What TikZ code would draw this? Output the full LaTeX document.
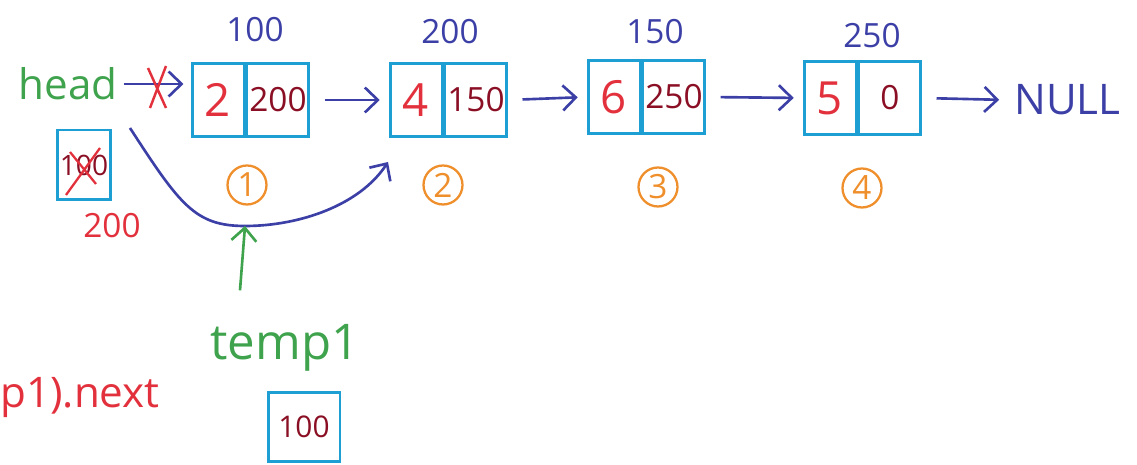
\documentclass[tikz,border=0pt]{standalone}
\usepackage{fontspec}
\setmainfont{Open Sans}
\usetikzlibrary{arrows.meta,calc}
\definecolor{boxc}{HTML}{1E9FD4}
\definecolor{inkblue}{HTML}{3B3FA6}
\definecolor{inkred}{HTML}{E2313C}
\definecolor{inkdark}{HTML}{8A0F24}
\definecolor{inkgreen}{HTML}{3FA34D}
\definecolor{inkorange}{HTML}{EF8F2C}
\newcommand{\fsz}[1]{\fontsize{#1}{#1}\selectfont}
\begin{document}
\begin{tikzpicture}[x=0.02cm,y=-0.02cm,
  cell/.style={draw=boxc,line width=1.7pt,inner sep=0pt,minimum height=1.46cm},
  datacell/.style={cell,minimum width=1.04cm,text=inkred,font=\fsz{26}},
  ptrcell/.style={cell,minimum width=1.24cm,text=inkdark,font=\fsz{19}},
  addr/.style={text=inkblue,font=\fsz{19}},
  order/.style={circle,draw=inkorange,line width=1.3pt,text=inkorange,
                minimum size=0.78cm,inner sep=0pt,font=\fsz{19}},
  barb/.style={-{Straight Barb[length=2.6mm,width=5mm,line width=1.5pt]}},
  link/.style={draw=inkblue,line width=1.5pt,barb},
  straightlink/.style={link,shorten <=8pt,shorten >=5pt},
  ]
\useasboundingbox (0,0) rectangle (1137,465);

% list nodes: data cell + pointer cell
\node[datacell] (n1d) at (218,100) {2};
\node[ptrcell,anchor=west] (n1p) at (n1d.east) {200};
\node[datacell] (n2d) at (416,100) {4};
\node[ptrcell,anchor=west] (n2p) at (n2d.east) {150};
\node[datacell] (n3d) at (614,97) {6};
\node[ptrcell,anchor=west] (n3p) at (n3d.east) {250};
\node[datacell] (n4d) at (830,98) {5};
\node[ptrcell,anchor=west] (n4p) at (n4d.east) {0};

% addresses
\node[addr] (a1) at (255,30) {100};
\node[addr] (a2) at (450,32) {200};
\node[addr] (a3) at (655,32) {150};
\node[addr] (a4) at (872,36) {250};

% node order
\node[order] (o1) at (247,185) {1};
\node[order] (o2) at (443,185) {2};
\node[order] (o3) at (658,187) {3};
\node[order] (o4) at (862,188) {4};

% NULL terminator
\node[text=inkblue,font=\fsz{24},anchor=west] (null) at (1008,100) {NULL};

% head pointer
\node[text=inkgreen,font=\fsz{24}] (head) at (68,84) {head};
\draw[link,shorten >=4pt] (head.east) -- (head.east -| n1d.west);
\draw[inkred,line width=1.4pt] (148,68) -- (166,108) (166,66) -- (150,108);

\node[cell,minimum width=1.06cm,minimum height=1.4cm,text=inkdark,font=\fsz{16}] (hbox) at (84,165) {100};
\draw[inkred,line width=1.3pt] (66,195) -- (100,148) (70,152) -- (96,184);
\node[text=inkred,font=\fsz{19}] (hnew) at (112,226) {200};

% links between list nodes
\draw[straightlink] (n1p.east) -- (n2d.west);
\draw[straightlink] (n2p.east) -- (n3d.west);
\draw[straightlink] (n3p.east) -- (n4d.west);
\draw[straightlink] (n4p.east) -- (null.west);

% head moved on to the second node
\coordinate (cs) at (130,128);
\coordinate (cb) at (245,226);
\coordinate (ce) at (388,162);
\draw[link] (cs) .. controls (180,205) and (195,226) .. (cb)
  .. controls (300,226) and (360,205) .. (ce);

% temp1
\node[text=inkgreen,font=\fsz{28}] (temp) at (285,348) {temp1};
\draw[draw=inkgreen,line width=1.5pt,barb] ($(temp.north)+(-45,-28)$) -- (cb);
\node[cell,minimum width=1.44cm,minimum height=1.38cm,text=inkdark,font=\fsz{17}] (tbox) at (304,427) {100};

\node[text=inkred,font=\fsz{24},anchor=west,inner xsep=0pt] (nxt) at (0,398) {p1).next};
\end{tikzpicture}
\end{document}
